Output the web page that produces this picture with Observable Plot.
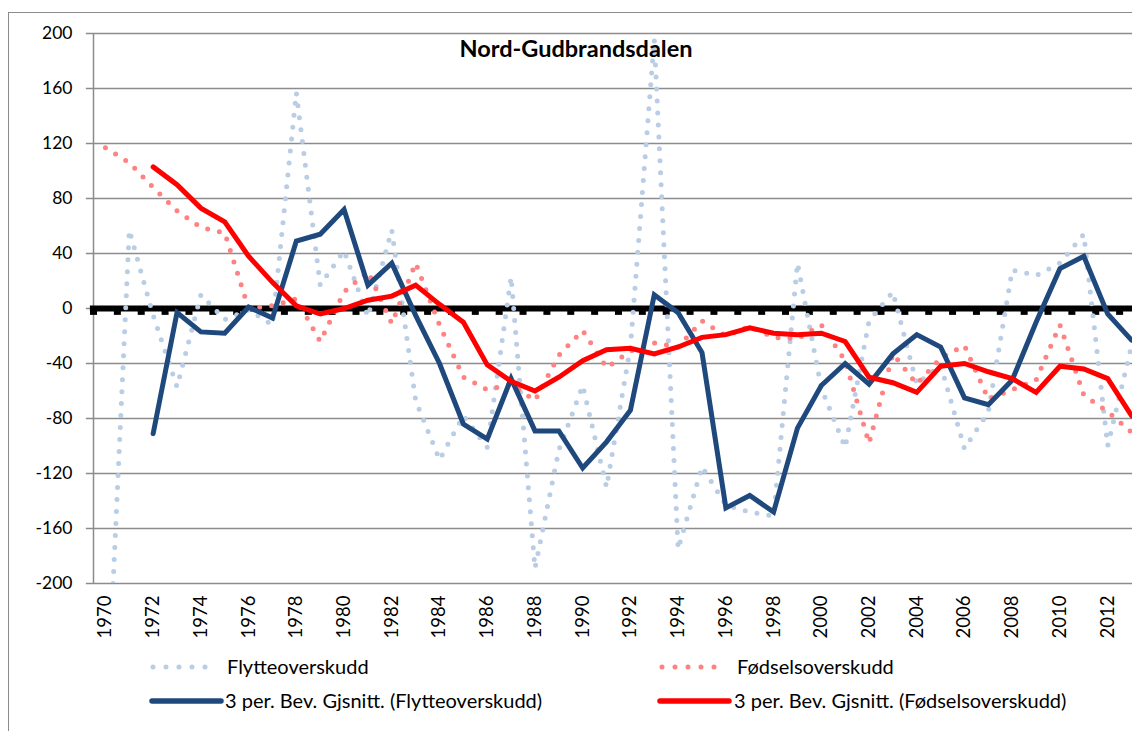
<!DOCTYPE html>
<html>
<head>
<meta charset="utf-8">
<script src="https://cdn.jsdelivr.net/npm/d3@7"></script>
<script src="https://cdn.jsdelivr.net/npm/@observablehq/plot@0.6"></script>
<style>
  html, body { margin: 0; padding: 0; background: #fff; overflow: hidden; }
  body { width: 1132px; height: 731px; position: relative; font-family: Lato, "Open Sans", sans-serif; }
  #frame { position: absolute; left: 8px; top: 12px; width: 1300px; height: 900px; border: 1.5px solid #8c8c8c; box-sizing: border-box; }
  #chart { position: absolute; left: 0; top: 0; }
  #title { position: absolute; left: 326px; width: 500px; top: 34px; text-align: center; font-weight: bold; font-size: 23.5px; line-height: 28px; color: #000; }
  .leg { position: absolute; font-size: 20px; color: #000; white-space: nowrap; line-height: 24px; }
  .sw { position: absolute; }
</style>
</head>
<body>
<div id="frame"></div>
<div id="chart"></div>
<div id="title">Nord-Gudbrandsdalen</div>
<div id="legend"></div>
<script>
// ---- data ----
const years = [1970,1971,1972,1973,1974,1975,1976,1977,1978,1979,1980,1981,1982,1983,1984,1985,1986,1987,1988,1989,1990,1991,1992,1993,1994,1995,1996,1997,1998,1999,2000,2001,2002,2003,2004,2005,2006,2007,2008,2009,2010,2011,2012,2013];
const flytte = [-322,57,-5,-57,10,-8,-1,-12,157,17,42,-6,57,-67,-110,-78,-101,23,-189,-103,-56,-130,-28,196,-175,-115,-143,-148,-151,33,-58,-101,-9,12,-55,-41,-102,-75,28,24,33,54,-100,-27];
const fodsel = [117,106,88,71,59,55,0,2,7,-24,12,27,-11,33,-12,-50,-59,-55,-67,-34,-16,-43,-31,-25,-28,-9,-20,-13,-21,-22,-12,-38,-98,-33,-55,-36,-27,-66,-59,-52,-12,-63,-75,-90];
const maYears = [1972,1973,1974,1975,1976,1977,1978,1979,1980,1981,1982,1983,1984,1985,1986,1987,1988,1989,1990,1991,1992,1993,1994,1995,1996,1997,1998,1999,2000,2001,2002,2003,2004,2005,2006,2007,2008,2009,2010,2011,2012,2013];
const flytteMA = [-91,-3,-17,-18,1,-7,49,54,72,17,33,-5,-40,-84,-95,-51,-89,-89,-116,-97,-74,10,-3,-32,-145,-136,-148,-87,-56,-40,-55,-33,-19,-28,-65,-70,-52,-10,29,38,-4,-23];
const fodselMA = [103,90,73,63,38,19,2,-4,0,6,9,17,3,-10,-41,-53,-60,-50,-38,-30,-29,-33,-28,-21,-19,-14,-18,-19,-18,-24,-50,-54,-61,-42,-40,-46,-51,-61,-42,-44,-51,-78];
const yTicks = [-200,-160,-120,-80,-40,0,40,80,120,160,200];
const xTickLabels = [1970,1972,1974,1976,1978,1980,1982,1984,1986,1988,1990,1992,1994,1996,1998,2000,2002,2004,2006,2008,2010,2012];
const seriesNames = ["Flytteoverskudd", "Fødselsoverskudd", "3 per. Bev. Gjsnitt. (Flytteoverskudd)", "3 per. Bev. Gjsnitt. (Fødselsoverskudd)"];
const colors = {flytte: "#b9cde5", fodsel: "#ff8282", flytteMA: "#1f497d", fodselMA: "#ff0000"};

// ---- tables ----
const raw = years.map((yr, i) => ({year: yr, flytte: flytte[i], fodsel: fodsel[i]}));
const ma = maYears.map((yr, i) => ({year: yr, flytte: flytteMA[i], fodsel: fodselMA[i]}));
const boundaries = years.map(y => y - 0.5);

const grid = "#8c8c8c";
const xLeft = 1969.5, xRight = 2013.04;

const plot = Plot.plot({
  width: 1132,
  height: 650,
  marginLeft: 93, marginRight: 0, marginTop: 33, marginBottom: 67,
  x: {type: "linear", domain: [xLeft, xRight], range: [93, 1132], axis: null},
  y: {domain: [-200, 200], range: [583, 33], axis: null},
  style: {fontFamily: "Lato, 'Open Sans', sans-serif", fontSize: "17px", background: "transparent", overflow: "visible", color: "#000"},
  marks: [
    Plot.ruleY(yTicks, {y: d => d, x1: () => 1969.2, x2: () => xRight, stroke: grid, strokeWidth: 1.5}),
    Plot.ruleX([xLeft], {x: d => d, y1: () => -200, y2: () => 200, stroke: grid, strokeWidth: 1.5}),
    Plot.ruleY([0], {y: d => d, x1: () => 1969.37, x2: () => xRight, stroke: "#000", strokeWidth: 6}),
    Plot.ruleX(boundaries, {x: d => d, y1: () => 0, y2: () => -5, stroke: "#000", strokeWidth: 7}),
    Plot.line(raw, {x: "year", y: "flytte", stroke: colors.flytte, strokeWidth: 5, strokeDasharray: "0,12", strokeLinecap: "round", strokeLinejoin: "round", clip: true}),
    Plot.line(raw, {x: "year", y: "fodsel", stroke: colors.fodsel, strokeWidth: 5, strokeDasharray: "0,12", strokeLinecap: "round", strokeLinejoin: "round", clip: true}),
    Plot.line(ma, {x: "year", y: "flytte", stroke: colors.flytteMA, strokeWidth: 5, strokeLinecap: "round", strokeLinejoin: "miter", strokeMiterlimit: 4}),
    Plot.line(ma, {x: "year", y: "fodsel", stroke: colors.fodselMA, strokeWidth: 5, strokeLinecap: "round", strokeLinejoin: "miter", strokeMiterlimit: 4}),
    Plot.text(yTicks, {x: () => xLeft, y: d => d, text: d => String(d), textAnchor: "end", dx: -21, fontSize: 17.5, fill: "#000"}),
    Plot.text(xTickLabels, {x: d => d, y: () => -200, text: d => String(d), rotate: -90, textAnchor: "end", lineAnchor: "middle", dy: 12, fontSize: 18.5, fill: "#000"})
  ]
});
document.getElementById("chart").appendChild(plot);

// ---- legend ----
const legend = document.getElementById("legend");
function dotted(x, y, color) {
  return `<svg class="sw" style="left:${x}px;top:${y - 4}px" width="72" height="8"><line x1="3" y1="4" x2="68" y2="4" stroke="${color}" stroke-width="5" stroke-linecap="round" stroke-dasharray="0,13"/></svg>`;
}
function solid(x, y, color) {
  return `<svg class="sw" style="left:${x}px;top:${y - 4}px" width="76" height="8"><line x1="3" y1="4" x2="72" y2="4" stroke="${color}" stroke-width="5.5" stroke-linecap="round"/></svg>`;
}
legend.innerHTML =
  dotted(150, 667, colors.flytte) + `<div class="leg" style="left:227px;top:654px">${seriesNames[0]}</div>` +
  dotted(659, 667, colors.fodsel) + `<div class="leg" style="left:737px;top:654px">${seriesNames[1]}</div>` +
  solid(149, 701, colors.flytteMA) + `<div class="leg" style="left:225px;top:688px">${seriesNames[2]}</div>` +
  solid(657, 701, colors.fodselMA) + `<div class="leg" style="left:734px;top:688px">${seriesNames[3]}</div>`;
</script>
</body>
</html>
